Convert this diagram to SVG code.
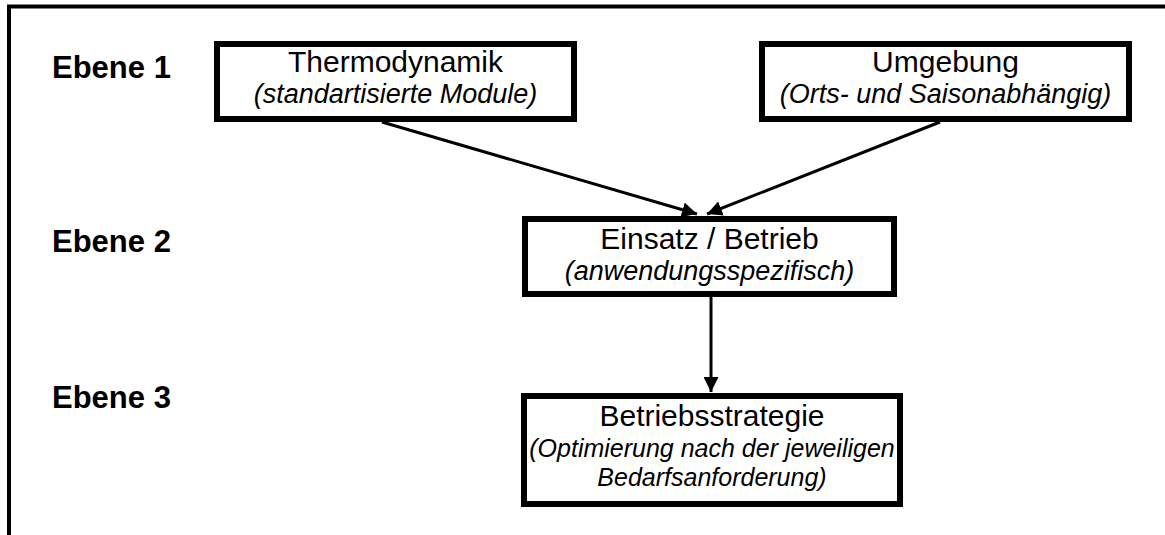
<svg xmlns="http://www.w3.org/2000/svg" width="1165" height="535" viewBox="0 0 1165 535">
<defs>
<style>
.box{fill:#fff;stroke:#000;stroke-width:6}
.t{font-family:"Liberation Sans",Arial,sans-serif;font-size:30px;text-anchor:middle;fill:#000}
.i{font-family:"Liberation Sans",Arial,sans-serif;font-size:27px;font-style:italic;text-anchor:middle;fill:#000}
.i2{font-family:"Liberation Sans",Arial,sans-serif;font-size:25px;font-style:italic;text-anchor:middle;fill:#000}
.lvl{font-family:"Liberation Sans",Arial,sans-serif;font-size:31px;font-weight:bold;fill:#000}
.con{stroke:#000;stroke-width:3;fill:none}
</style>
<marker id="arr" viewBox="0 0 10 10" refX="10" refY="5" markerWidth="5" markerHeight="5" orient="auto" markerUnits="strokeWidth">
<path d="M0,0 L10,5 L0,10 z" fill="#000"/>
</marker>
</defs>
<rect width="1165" height="535" fill="#fff"/>
<g id="frame">
<line x1="7" y1="6.5" x2="1165" y2="6.5" stroke="#000" stroke-width="4"/>
<line x1="9" y1="5" x2="9" y2="535" stroke="#000" stroke-width="4"/>
</g>
<g id="labels">
<text class="lvl" x="52" y="78">Ebene 1</text>
<text class="lvl" x="52" y="252">Ebene 2</text>
<text class="lvl" x="52" y="408">Ebene 3</text>
</g>
<g id="connectors">
<line class="con" x1="382" y1="122" x2="697" y2="214" marker-end="url(#arr)"/>
<line class="con" x1="940" y1="122" x2="707" y2="214" marker-end="url(#arr)"/>
<line class="con" x1="711" y1="297" x2="711" y2="392" marker-end="url(#arr)"/>
</g>
<g id="thermo">
<rect class="box" x="217" y="44" width="357" height="75"/>
<text class="t" x="395.5" y="72">Thermodynamik</text>
<text class="i" x="395.5" y="103">(standartisierte Module)</text>
</g>
<g id="umgebung">
<rect class="box" x="762" y="44" width="367" height="75"/>
<text class="t" x="945.5" y="72">Umgebung</text>
<text class="i" x="945.5" y="103">(Orts- und Saisonabhängig)</text>
</g>
<g id="einsatz">
<rect class="box" x="525" y="219" width="369" height="75"/>
<text class="t" x="709.5" y="249">Einsatz / Betrieb</text>
<text class="i" x="709.5" y="280">(anwendungsspezifisch)</text>
</g>
<g id="strategie">
<rect class="box" x="524" y="396" width="376" height="108"/>
<text class="t" x="712" y="426">Betriebsstrategie</text>
<text class="i2" x="712" y="457">(Optimierung nach der jeweiligen</text>
<text class="i2" x="712" y="486">Bedarfsanforderung)</text>
</g>
</svg>
